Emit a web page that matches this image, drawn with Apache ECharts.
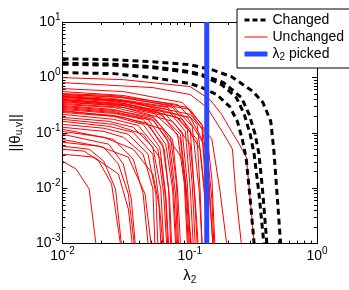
<!DOCTYPE html>
<html><head><meta charset="utf-8">
<script src="https://cdn.jsdelivr.net/npm/echarts@6/dist/echarts.min.js"></script>
<style>html,body{margin:0;padding:0;background:#fff}#c{width:349px;height:290px}</style>
</head><body><div id="c"></div>
<script>
// ---- axis ticks ----
const xTicks = [0.01, 0.1, 1];
const xTickExp = ['-2', '-1', '0'];
const yTicks = [0.001, 0.01, 0.1, 1, 10];
const yTickExp = ['-3', '-2', '-1', '0', '1'];

// ---- legend names ----
const nameChanged = 'Changed';
const nameUnchanged = 'Unchanged';
const namePicked = 'λ2 picked';

// ---- picked lambda (vertical line) ----
const pickedLambda = 0.136;
const pickedLine = [[pickedLambda, 0.001], [pickedLambda, 10]];

// ---- "Changed" paths [lambda, norm] ----
const changed1 = [[0.01,2.17],[0.0252,2.08],[0.0513,1.92],[0.1009,1.69],[0.1492,1.38],[0.2128,1.03],[0.3148,0.555],[0.3758,0.352],[0.4332,0.161],[0.4572,0.0506],[0.4822,0.0097],[0.5176,0.001]];
const changed2 = [[0.01,1.80],[0.0252,1.73],[0.0513,1.56],[0.1009,1.27],[0.1249,1.12],[0.1847,0.805],[0.2543,0.433],[0.2932,0.215],[0.3262,0.094],[0.3501,0.0411],[0.3758,0.0079],[0.4036,0.001]];
const changed3 = [[0.01,1.73],[0.0252,1.66],[0.0513,1.50],[0.1009,1.22],[0.1249,1.075],[0.1782,0.741],[0.2327,0.433],[0.2683,0.215],[0.2985,0.094],[0.3206,0.0411],[0.3501,0.0079],[0.3826,0.001]];
const changed4 = [[0.01,1.22],[0.0252,1.17],[0.0513,0.99],[0.1009,0.772],[0.1249,0.655],[0.1631,0.49],[0.2055,0.299],[0.2368,0.161],[0.2589,0.076],[0.2780,0.0335],[0.2985,0.0064],[0.3206,0.001]];

// ---- "Unchanged" paths [lambda, norm] ----
const unA1 = [[0.01,0.99],[0.0301,0.911],[0.1009,0.682],[0.1440,0.399],[0.1782,0.215],[0.2128,0.106],[0.2453,0.0622],[0.2780,0.0364],[0.2985,0.0064],[0.3206,0.001]];
const unA2 = [[0.01,0.805],[0.0513,0.655],[0.1009,0.49],[0.1365,0.287],[0.1815,0.102],[0.2166,0.0506],[0.2285,0.0097],[0.2543,0.001]];
const unA3 = [[0.01,0.49],[0.0301,0.433],[0.1009,0.264],[0.1492,0.076],[0.1720,0.0097],[0.1949,0.001]];
const unA4 = [[0.01,0.452],[0.0301,0.383],[0.1009,0.215],[0.1365,0.094],[0.1492,0.0147],[0.1574,0.001]];
const unA5 = [[0.01,0.399],[0.0301,0.338],[0.1009,0.190],[0.1249,0.076],[0.1415,0.0097],[0.1519,0.001]];
const unA6 = [[0.01,0.383],[0.0301,0.311],[0.0801,0.190],[0.1143,0.076],[0.1205,0.0097],[0.1249,0.001]];
const unA7 = [[0.01,0.555],[0.0301,0.471],[0.0957,0.287],[0.1249,0.116],[0.1317,0.0147],[0.1365,0.001]];
const unU1 = [[0.01,0.352],[0.0301,0.311],[0.0513,0.233],[0.0801,0.094],[0.0907,0.0119],[0.0957,0.001]];
const unU2 = [[0.01,0.383],[0.0252,0.338],[0.0561,0.243],[0.0845,0.094],[0.0940,0.0097],[0.0991,0.001]];
const unU3 = [[0.01,0.416],[0.0252,0.367],[0.0613,0.243],[0.0875,0.102],[0.0957,0.0119],[0.1009,0.001]];
const unU4 = [[0.01,0.433],[0.0252,0.383],[0.0670,0.264],[0.0923,0.106],[0.1009,0.0097],[0.1064,0.001]];
const unU5 = [[0.01,0.452],[0.0252,0.399],[0.0670,0.287],[0.0957,0.116],[0.1045,0.0119],[0.1103,0.001]];
const unU6 = [[0.01,0.471],[0.0252,0.416],[0.0733,0.287],[0.1009,0.116],[0.1083,0.0097],[0.1143,0.001]];
const unU7 = [[0.01,0.49],[0.0252,0.452],[0.0733,0.311],[0.1045,0.131],[0.1183,0.0097],[0.1249,0.001]];
const unU8 = [[0.01,0.511],[0.0252,0.471],[0.0801,0.324],[0.1143,0.142],[0.1294,0.0119],[0.1365,0.001]];
const unU9 = [[0.01,0.628],[0.0301,0.555],[0.0875,0.352],[0.1249,0.142],[0.1415,0.0147],[0.1519,0.001]];
const unU10 = [[0.01,0.338],[0.0301,0.287],[0.0733,0.161],[0.1009,0.0622],[0.1103,0.0064],[0.1163,0.001]];
const unM1 = [[0.01,0.126],[0.0211,0.106],[0.0301,0.083],[0.0430,0.0411],[0.0513,0.0097],[0.0532,0.001]];
const unM2 = [[0.01,0.142],[0.0211,0.121],[0.0329,0.094],[0.0470,0.0411],[0.0542,0.0079],[0.0561,0.001]];
const unM3 = [[0.01,0.161],[0.0231,0.131],[0.0360,0.102],[0.0513,0.0411],[0.0571,0.0064],[0.0592,0.001]];
const unM4 = [[0.01,0.190],[0.0231,0.161],[0.0360,0.126],[0.0513,0.0549],[0.0592,0.0097],[0.0624,0.001]];
const unM5 = [[0.01,0.215],[0.0252,0.175],[0.0393,0.136],[0.0561,0.0506],[0.0624,0.0079],[0.0658,0.001]];
const unM6 = [[0.01,0.233],[0.0252,0.198],[0.0430,0.142],[0.0581,0.0549],[0.0647,0.0079],[0.0682,0.001]];
const unM7 = [[0.01,0.264],[0.0252,0.224],[0.0430,0.175],[0.0613,0.0622],[0.0682,0.0097],[0.0707,0.001]];
const unM8 = [[0.01,0.287],[0.0252,0.243],[0.0470,0.175],[0.0647,0.0622],[0.0733,0.0097],[0.0773,0.001]];
const unM9 = [[0.01,0.311],[0.0252,0.264],[0.0513,0.175],[0.0695,0.0622],[0.0773,0.0079],[0.0801,0.001]];
const unM10 = [[0.01,0.324],[0.0252,0.287],[0.0513,0.198],[0.0733,0.076],[0.0801,0.0097],[0.0845,0.001]];
const unM11 = [[0.01,0.299],[0.0257,0.253],[0.0513,0.190],[0.0707,0.083],[0.0787,0.0119],[0.0815,0.001]];
const unM12 = [[0.01,0.243],[0.0252,0.206],[0.0470,0.148],[0.0630,0.0506],[0.0695,0.0064],[0.0720,0.001]];
const unL1 = [[0.01,0.0308],[0.0128,0.0221],[0.0162,0.0097],[0.0183,0.001]];
const unL2 = [[0.01,0.0506],[0.0148,0.0466],[0.0193,0.0308],[0.0243,0.0119],[0.0285,0.001]];
const unL3 = [[0.01,0.0573],[0.0162,0.0506],[0.0211,0.0308],[0.0261,0.0097],[0.0290,0.001]];
const unL4 = [[0.01,0.076],[0.0211,0.0549],[0.0275,0.0272],[0.0329,0.0079],[0.0366,0.001]];
const unL5 = [[0.01,0.094],[0.0231,0.0622],[0.0301,0.0272],[0.0347,0.0064],[0.0373,0.001]];
const unL6 = [[0.01,0.116],[0.0252,0.076],[0.0360,0.0335],[0.0430,0.0079],[0.0470,0.001]];
const unL7 = [[0.01,0.0675],[0.0193,0.0573],[0.0329,0.0364],[0.0445,0.0079],[0.0496,0.001]];
const unX1 = [[0.01,0.367],[0.0252,0.311],[0.0613,0.206],[0.0845,0.076],[0.0923,0.0097],[0.0974,0.001]];
const unX2 = [[0.01,0.275],[0.0252,0.233],[0.0513,0.168],[0.0670,0.076],[0.0746,0.0097],[0.0787,0.001]];
const unX3 = [[0.01,0.175],[0.0252,0.142],[0.0430,0.094],[0.0592,0.0335],[0.0647,0.0064],[0.0670,0.001]];
const unX4 = [[0.01,0.253],[0.0301,0.190],[0.0613,0.116],[0.0875,0.0335],[0.0974,0.00424],[0.1027,0.001]];
const unX5 = [[0.01,0.399],[0.0360,0.311],[0.0875,0.175],[0.1205,0.0506],[0.1317,0.0064],[0.1390,0.001]];
const unX6 = [[0.01,0.452],[0.0360,0.352],[0.0957,0.190],[0.1365,0.0506],[0.1492,0.0064],[0.1546,0.001]];
const unX7 = [[0.01,0.106],[0.0211,0.083],[0.0360,0.0506],[0.0513,0.018],[0.0581,0.00424],[0.0613,0.001]];
const unX8 = [[0.01,0.0411],[0.0177,0.0364],[0.0275,0.018],[0.0329,0.00424],[0.0353,0.001]];

const changedLines = [changed1, changed2, changed3, changed4];
const unchangedLines = [unA1, unA2, unA3, unA4, unA5, unA6, unA7,
  unU1, unU2, unU3, unU4, unU5, unU6, unU7, unU8, unU9, unU10,
  unM1, unM2, unM3, unM4, unM5, unM6, unM7, unM8, unM9, unM10, unM11, unM12,
  unL1, unL2, unL3, unL4, unL5, unL6, unL7,
  unX1, unX2, unX3, unX4, unX5, unX6, unX7, unX8];

// ---- minor (log) tick positions ----
function minorTicks(lo, hi) {
  const out = [];
  for (let d = lo; d < hi; d++) {
    for (let k = 2; k <= 9; k++) out.push(k * Math.pow(10, d));
  }
  return out;
}
const xMinor = minorTicks(-2, 0);
const yMinor = minorTicks(-3, 1);

const FONT = '"Liberation Sans", Arial, Helvetica, sans-serif';
const RED = '#ff0000', BLACK = '#000000', BLUE = '#2b48ff';

const tickRich = {
  b: { fontSize: 14, fontFamily: FONT, color: '#000', lineHeight: 20, verticalAlign: 'middle' },
  e: { fontSize: 10, fontFamily: FONT, color: '#000', lineHeight: 10, verticalAlign: 'top' }
};
function expLabel(ticks, exps) {
  return function (v) {
    const i = ticks.findIndex(t => Math.abs(Math.log10(t) - Math.log10(v)) < 1e-6);
    return i < 0 ? '' : '{b|10}{e|' + exps[i] + '}';
  };
}
const lineAx = { show: true, lineStyle: { color: BLACK, width: 1 } };

function xAx(pos, main, minor) {
  return {
    type: 'log', logBase: 10, min: 0.01, max: 1, position: pos,
    axisLine: minor ? { show: false } : lineAx,
    axisTick: { show: true, inside: true, length: minor ? 3 : 5,
      customValues: minor ? xMinor : xTicks, lineStyle: { color: BLACK, width: 1 } },
    axisLabel: main ? { show: true, customValues: xTicks, formatter: expLabel(xTicks, xTickExp),
      rich: tickRich, margin: 3 } : { show: false },
    splitLine: { show: false }, minorTick: { show: false },
    name: main ? '{a|λ}{s|2}' : '', nameLocation: 'middle', nameGap: 21,
    nameTextStyle: { rich: {
      a: { fontSize: 15, fontFamily: FONT, color: '#000', lineHeight: 18, verticalAlign: 'middle' },
      s: { fontSize: 10, fontFamily: FONT, color: '#000', lineHeight: 10, verticalAlign: 'bottom' } } }
  };
}
function yAx(pos, main, minor) {
  return {
    type: 'log', logBase: 10, min: 0.001, max: 10, position: pos,
    axisLine: minor ? { show: false } : lineAx,
    axisTick: { show: true, inside: true, length: minor ? 3 : 5,
      customValues: minor ? yMinor : yTicks, lineStyle: { color: BLACK, width: 1 } },
    axisLabel: main ? { show: true, customValues: yTicks, formatter: expLabel(yTicks, yTickExp),
      rich: tickRich, margin: 2 } : { show: false },
    splitLine: { show: false }, minorTick: { show: false },
    name: main ? '{a|||θ}{s|u,v}{a|||}' : '', nameLocation: 'middle', nameGap: 38,
    nameTextStyle: { rich: {
      a: { fontSize: 15, fontFamily: FONT, color: '#000', lineHeight: 18, verticalAlign: 'middle' },
      s: { fontSize: 10, fontFamily: FONT, color: '#000', lineHeight: 10, verticalAlign: 'bottom' } } }
  };
}

const series = [];
unchangedLines.forEach(d => series.push({
  type: 'line', name: nameUnchanged, data: d, symbol: 'none', silent: true, z: 2,
  lineStyle: { color: RED, width: 1 }, itemStyle: { color: RED }
}));
changedLines.forEach(d => series.push({
  type: 'line', name: nameChanged, data: d, symbol: 'none', silent: true, z: 3,
  lineStyle: { color: BLACK, width: 3, type: [6, 4] }, itemStyle: { color: BLACK }
}));
series.push({
  type: 'line', name: namePicked, data: pickedLine, symbol: 'none', silent: true, z: 4,
  lineStyle: { color: BLUE, width: 5 }, itemStyle: { color: BLUE }
});

const hiddenIcon = { color: 'rgba(0,0,0,0)', borderColor: 'rgba(0,0,0,0)', borderWidth: 0, opacity: 0 };

const chart = echarts.init(document.getElementById('c'), null, { renderer: 'canvas' });
chart.setOption({
  animation: false,
  backgroundColor: '#fff',
  textStyle: { fontFamily: FONT },
  grid: { left: 58, top: 22, width: 259, height: 223, containLabel: false },
  xAxis: [xAx('bottom', true, false), xAx('top', false, false), xAx('bottom', false, true), xAx('top', false, true)],
  yAxis: [yAx('left', true, false), yAx('right', false, false), yAx('left', false, true), yAx('right', false, true)],
  legend: {
    orient: 'vertical', left: 237, top: 9,
    padding: [4, 6, 6, 5], itemGap: 3, itemWidth: 23, itemHeight: 14,
    backgroundColor: '#fff', borderColor: BLACK, borderWidth: 1, borderRadius: 0,
    selectedMode: false,
    itemStyle: hiddenIcon,
    data: [
      { name: nameChanged, itemStyle: hiddenIcon, lineStyle: { color: BLACK, width: 3, type: [5, 3], opacity: 1 } },
      { name: nameUnchanged, itemStyle: hiddenIcon, lineStyle: { color: RED, width: 1, opacity: 1 } },
      { name: namePicked, itemStyle: hiddenIcon, lineStyle: { color: BLUE, width: 5, opacity: 1 } }
    ],
    formatter: n => n === namePicked ? '{t|λ}{s|2}{t| picked}' : '{t|' + n + '}',
    textStyle: { fontFamily: FONT, color: '#000', rich: {
      t: { fontSize: 14, fontFamily: FONT, color: '#000', lineHeight: 16, verticalAlign: 'middle' },
      s: { fontSize: 10, fontFamily: FONT, color: '#000', lineHeight: 8, verticalAlign: 'bottom' } } }
  },
  series: series
});
</script>
</body></html>
